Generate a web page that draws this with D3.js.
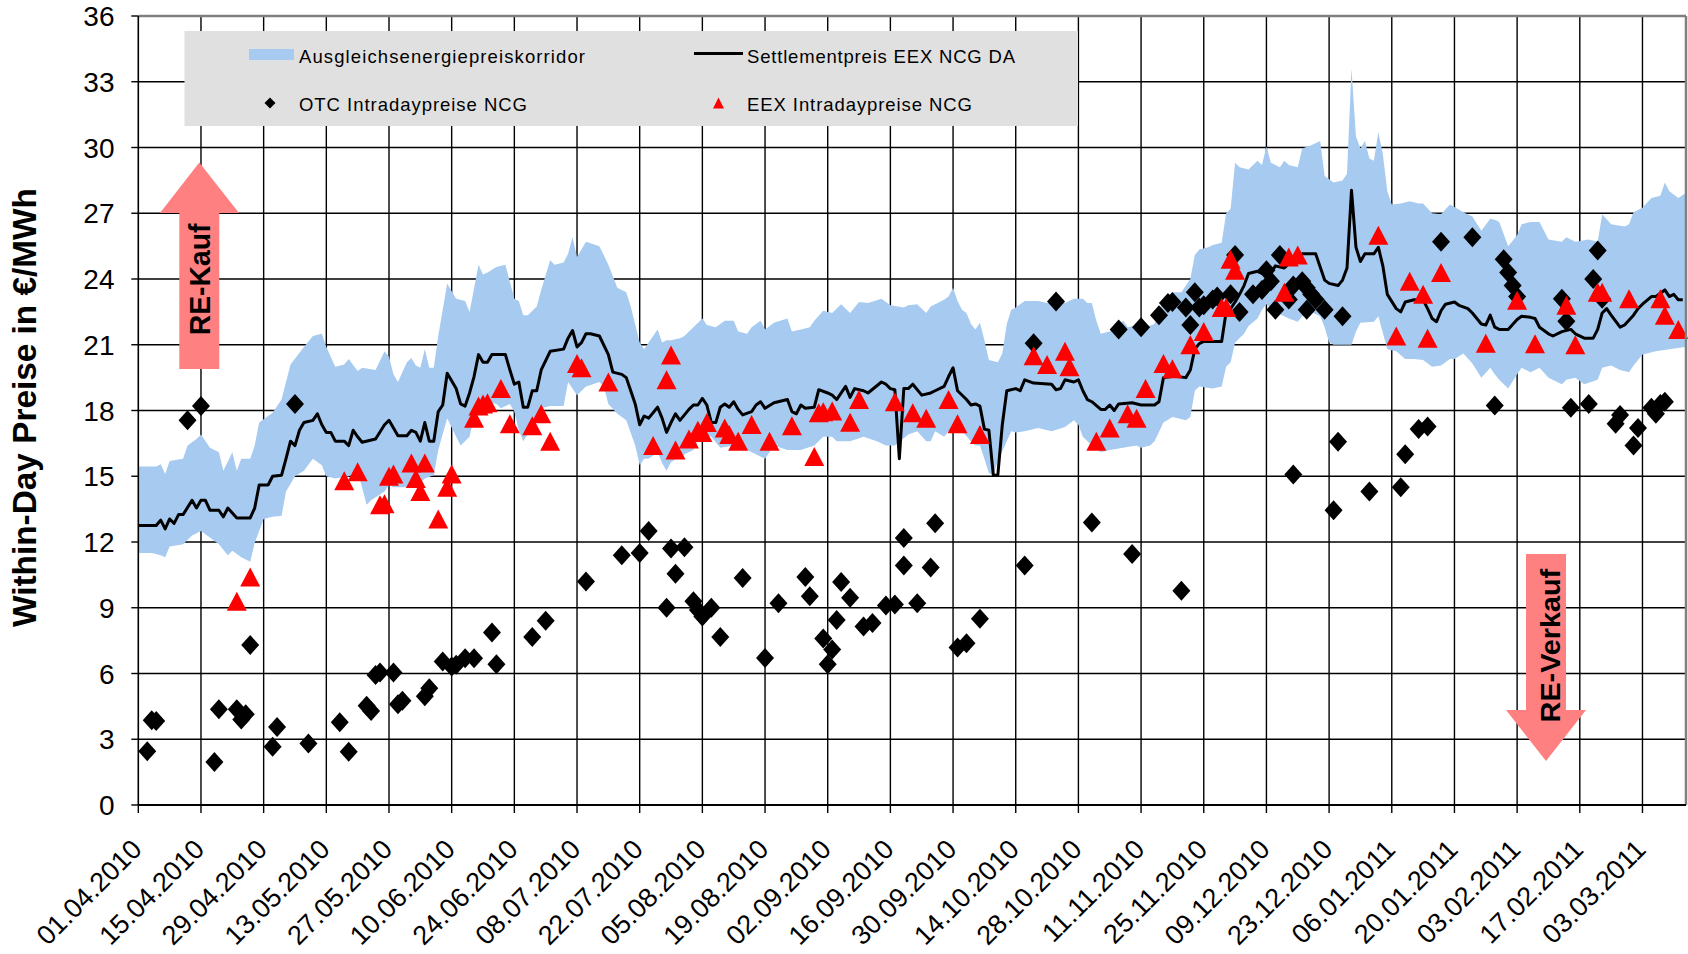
<!DOCTYPE html>
<html><head><meta charset="utf-8">
<script src="https://cdn.jsdelivr.net/npm/d3@7"></script>
<style>html,body{margin:0;padding:0;background:#fff}svg{display:block}text{font-family:"Liberation Sans",Arial,sans-serif}</style>
</head><body><svg id="chart" width="1688" height="954"></svg>
<script>
// ---------------- DATA (day = days after 01.04.2010) ----------------
const startLabel = "01.04.2010";
const xEndDay = 345.5;
const xTickLabels = ["01.04.2010","15.04.2010","29.04.2010","13.05.2010","27.05.2010","10.06.2010","24.06.2010","08.07.2010","22.07.2010","05.08.2010","19.08.2010","02.09.2010","16.09.2010","30.09.2010","14.10.2010","28.10.2010","11.11.2010","25.11.2010","09.12.2010","23.12.2010","06.01.2011","20.01.2011","03.02.2011","17.02.2011","03.03.2011"];
const yTicks = [0,3,6,9,12,15,18,21,24,27,30,33,36];

const seriesNames = ["Ausgleichsenergiepreiskorridor","Settlementpreis EEX NCG DA","OTC Intradaypreise NCG","EEX Intradaypreise NCG"];

// Ausgleichsenergiepreiskorridor, upper edge [day, €/MWh]
const corridorUpper = [[0,15.45],[4,15.45],[5,15.55],[6,15.1],[7,15.7],[10,15.8],[11,16.4],[13,16.7],[14,16.9],[16,16.3],[18,16.1],[19,15.25],[21,16.1],[22,15.25],[23,15.8],[25,15.8],[26,16.4],[27,17.45],[30,17.9],[32,18.5],[34,20.1],[37,20.9],[39,21.4],[41,21.5],[42,20.9],[44,20.0],[46,20.1],[47,20.35],[49,19.8],[50,19.95],[53,19.85],[55,20.7],[56,20.45],[57,19.65],[58,19.3],[60,20.2],[61,20.4],[62,20.05],[63,19.95],[64,20.8],[65,19.95],[66,19.95],[67,21.4],[69,23.8],[71,23.1],[73,23.0],[74,22.5],[76,24.65],[77,24.2],[78,24.3],[80,24.55],[82,24.65],[84,23.1],[85,23.0],[86,22.35],[87,22.35],[89,22.75],[90,23.5],[92,24.85],[93,24.65],[95,24.75],[96,25.15],[97,25.9],[98,25.0],[100,25.7],[103,25.5],[105,24.65],[107,23.6],[109,23.4],[110,22.75],[112,21.1],[113,20.8],[114,21.1],[116,21.7],[117,21.1],[118,21.2],[119,21.2],[121,21.3],[122,21.4],[124,21.8],[126,22.2],[127,21.9],[129,21.8],[131,22.1],[133,22.1],[134,21.6],[136,21.5],[137,21.8],[139,22.1],[140,21.7],[142,22.0],[145,22.2],[146,21.6],[148,21.7],[150,21.8],[151,22.1],[153,22.55],[155,22.45],[157,22.85],[159,22.45],[161,22.95],[163,22.9],[166,23.1],[168,22.8],[171,22.7],[172,22.8],[174,22.85],[176,22.45],[177,22.75],[178,22.85],[180,23.05],[181,23.2],[182,23.6],[183,23.0],[184,22.6],[185,22.45],[186,21.95],[187,21.7],[188,22.0],[189,21.2],[190,20.3],[192,20.2],[193,20.6],[194,21.95],[195,22.6],[196,22.7],[198,23.0],[201,23.0],[203,22.9],[205,23.0],[207,22.9],[209,23.1],[211,23.1],[212,22.9],[213,22.9],[214,22.1],[215,21.5],[217,21.6],[220,22.1],[221,21.8],[223,21.9],[225,21.8],[227,21.95],[229,23.1],[231,23.4],[233,23.4],[235,24.0],[236,25.1],[237,25.35],[239,25.45],[240,25.55],[242,25.65],[243,27.0],[244,27.2],[245,29.3],[246,29.1],[248,29.0],[250,29.4],[251,29.2],[252,30.05],[253,29.3],[255,29.1],[256,29.4],[257,29.2],[259,29.1],[260,29.95],[262,30.1],[264,30.3],[265,28.7],[267,28.4],[269,28.5],[270,28.8],[271,33.6],[272,30.5],[273,29.95],[274,30.3],[275,29.5],[276,29.4],[277,30.7],[278,29.7],[279,28.0],[280,27.4],[282,27.45],[284,27.55],[286,27.45],[287,27.45],[289,27.0],[291,26.95],[293,27.4],[296,27.05],[298,26.85],[300,26.2],[302,26.75],[303,26.7],[304,26.6],[306,25.5],[308,26.0],[309,26.5],[311,26.6],[313,26.6],[315,25.8],[318,25.7],[319,25.9],[321,25.7],[324,25.8],[326,25.7],[327,26.95],[329,26.5],[332,26.4],[333,26.5],[334,27.05],[336,27.25],[338,27.7],[340,27.8],[341,28.4],[342,28.0],[344,27.7],[345.5,27.9]];

// Ausgleichsenergiepreiskorridor, lower edge [day, €/MWh]
const corridorLower = [[0,11.5],[3,11.5],[5,11.4],[6,11.3],[7,11.8],[10,11.9],[12,12.3],[14,12.5],[16,12.2],[18,11.9],[20,11.4],[21,11.6],[23,11.3],[25,11.1],[26,11.95],[28,13.05],[30,13.15],[32,13.2],[33,14.3],[35,15.0],[37,15.25],[39,15.8],[41,15.5],[42,15.0],[44,14.9],[47,15.0],[49,15.25],[51,13.7],[52,13.9],[55,14.3],[56,14.6],[57,14.5],[60,14.5],[63,14.7],[64,14.9],[66,15.05],[67,16.2],[69,17.65],[71,16.8],[72,16.4],[74,16.8],[75,17.75],[77,18.3],[78,18.4],[80,18.3],[81,18.1],[83,18.3],[84,17.95],[85,17.1],[86,16.6],[88,17.25],[89,17.55],[90,18.1],[92,18.2],[93,18.2],[95,18.2],[96,19.3],[98,18.7],[100,19.1],[103,19.3],[104,19.1],[105,18.3],[107,17.85],[109,17.55],[111,16.4],[112,15.5],[113,15.8],[114,15.8],[116,16.1],[117,15.6],[118,15.25],[119,15.65],[122,16.0],[124,16.2],[126,17.0],[128,16.8],[130,16.3],[133,16.4],[136,16.2],[140,15.8],[142,16.4],[145,16.2],[148,16.2],[151,16.4],[153,16.8],[155,16.8],[156,16.6],[159,16.6],[162,16.8],[165,16.6],[167,16.4],[169,16.4],[172,16.9],[174,17.05],[176,16.6],[177,16.6],[178,17.05],[180,16.8],[181,17.05],[183,17.0],[184,17.05],[186,16.6],[187,16.4],[188,16.4],[189,15.8],[190,15.15],[191,15.05],[192,15.7],[194,16.6],[195,17.05],[196,17.0],[198,17.05],[201,17.2],[204,17.05],[207,17.25],[209,17.55],[210,17.35],[211,16.8],[213,16.4],[215,16.1],[217,16.2],[220,16.3],[223,16.4],[224,16.3],[226,16.4],[227,16.6],[229,17.45],[231,17.7],[234,17.55],[235,17.7],[236,18.9],[237,19.1],[240,19.0],[242,19.1],[243,20.0],[244,20.2],[245,21.1],[247,21.5],[248,21.85],[250,22.2],[251,22.6],[252,22.85],[254,22.5],[257,22.2],[259,22.05],[260,22.3],[262,22.5],[264,22.3],[265,21.8],[266,21.1],[267,21.0],[269,21.0],[271,21.0],[272,21.6],[273,22.0],[276,22.05],[277,22.3],[279,20.8],[281,20.7],[283,20.35],[285,20.35],[287,20.3],[289,20.0],[291,20.05],[293,20.35],[294,20.35],[296,20.6],[298,20.15],[300,19.5],[302,19.95],[303,19.65],[304,19.4],[306,19.0],[308,19.65],[309,19.95],[311,19.75],[313,19.95],[315,19.5],[318,19.2],[319,19.4],[321,19.5],[323,19.2],[326,19.4],[327,19.95],[329,20.05],[331,19.85],[333,19.75],[334,20.05],[336,20.55],[339,20.7],[342,20.8],[345.5,20.9]];

// Settlementpreis EEX NCG DA [day, €/MWh]
const settlement = [[0,12.75],[4,12.75],[5,13.0],[6,12.6],[7,13.05],[8,12.85],[9,13.25],[10,13.25],[12,13.9],[13,13.55],[14,13.9],[15,13.9],[16,13.45],[18,13.45],[19,13.15],[20,13.55],[22,13.1],[25,13.1],[26,13.55],[27,14.6],[29,14.6],[30,15.0],[32,15.05],[33,15.8],[34,16.6],[35,16.4],[36,17.1],[37,17.45],[39,17.55],[40,17.85],[41,17.35],[42,17.0],[43,17.0],[44,16.6],[46,16.6],[47,16.4],[48,17.1],[49,16.8],[50,16.55],[53,16.7],[55,17.35],[56,17.55],[58,16.85],[60,16.85],[61,17.1],[62,17.0],[63,16.6],[64,17.45],[65,16.6],[66,16.6],[67,17.95],[68,18.25],[69,19.7],[71,19.0],[72,18.3],[73,18.2],[74,18.8],[75,19.55],[76,20.55],[77,20.2],[78,20.2],[79,20.55],[82,20.55],[83,19.85],[84,19.2],[85,19.3],[86,18.15],[87,18.15],[88,18.9],[89,18.9],[90,19.85],[92,20.7],[95,20.8],[96,21.3],[97,21.65],[98,20.9],[99,21.1],[100,21.5],[101,21.5],[103,21.4],[105,20.55],[106,19.75],[108,19.65],[109,19.5],[110,18.9],[111,18.3],[112,17.35],[113,17.75],[114,17.65],[116,18.15],[117,17.65],[118,17.0],[119,17.45],[120,17.85],[121,17.55],[123,18.05],[124,18.25],[125,18.25],[126,18.55],[127,18.25],[128,17.45],[129,17.45],[130,18.15],[131,18.3],[132,18.15],[133,18.4],[134,18.05],[135,17.8],[137,17.95],[138,18.25],[139,18.4],[140,18.1],[142,18.35],[145,18.5],[146,17.95],[147,17.85],[148,18.25],[149,18.1],[151,18.15],[152,18.95],[154,18.8],[155,18.7],[156,18.5],[158,19.1],[159,18.6],[160,19.0],[162,18.9],[163,18.8],[166,19.3],[167,19.2],[168,19.0],[169,18.95],[170,15.8],[171,19.0],[172,19.0],[173,19.2],[175,18.7],[177,18.8],[178,18.9],[180,19.1],[181,19.55],[182,19.95],[183,18.9],[185,18.5],[186,18.25],[187,18.3],[188,18.2],[189,17.15],[190,17.1],[191,15.05],[192,15.05],[193,17.35],[194,18.9],[196,19.0],[197,18.9],[198,19.4],[200,19.25],[204,19.2],[205,18.95],[206,19.0],[207,19.4],[209,19.3],[210,19.4],[211,18.9],[212,18.5],[213,18.4],[215,18.05],[216,18.05],[217,18.25],[218,18.0],[219,18.3],[222,18.35],[224,18.25],[227,18.25],[228,18.4],[229,19.5],[231,19.55],[232,19.55],[234,19.5],[235,19.85],[236,20.8],[237,21.05],[238,21.15],[242,21.15],[243,22.5],[244,22.65],[245,22.95],[246,23.3],[247,23.7],[248,24.25],[250,24.35],[251,24.25],[253,24.25],[254,24.6],[256,24.5],[257,24.7],[259,24.9],[260,25.15],[263,25.15],[265,23.95],[266,23.8],[268,23.7],[269,23.95],[270,24.5],[271,28.05],[272,25.45],[273,24.8],[274,25.15],[276,25.15],[277,25.45],[278,24.6],[279,23.3],[281,22.65],[282,22.5],[283,22.95],[285,23.05],[287,23.05],[288,22.65],[289,22.2],[290,22.05],[291,22.55],[292,22.85],[294,22.95],[295,22.8],[297,22.65],[298,22.45],[300,21.95],[301,21.9],[302,22.35],[303,21.8],[304,21.7],[306,21.7],[308,22.15],[309,22.3],[311,22.25],[312,22.2],[313,21.8],[315,21.5],[316,21.4],[318,21.6],[320,21.7],[321,21.5],[323,21.3],[325,21.3],[326,21.7],[327,22.45],[328,22.65],[329,22.35],[331,21.8],[332,21.9],[334,22.35],[335,22.65],[336,22.85],[338,23.2],[339,23.2],[341,23.5],[342,23.2],[343,23.3],[344,23.05],[345,23.05]];

// OTC Intradaypreise NCG [day, €/MWh]
const otcIntraday = [[2,2.45],[3,3.87],[4,3.83],[11,17.56],[14,18.2],[17,1.96],[18,4.37],[22,4.37],[23,3.9],[24,4.14],[25,7.3],[30,2.66],[31,3.56],[35,18.3],[38,2.81],[45,3.78],[47,2.43],[51,4.53],[52,4.29],[53,5.93],[54,6.05],[57,6.05],[58,4.6],[59,4.76],[64,4.96],[65,5.33],[68,6.55],[70,6.32],[71,6.4],[73,6.7],[75,6.7],[79,7.87],[80,6.42],[88,7.67],[91,8.41],[100,10.2],[108,11.4],[112,11.5],[114,12.5],[118,9.0],[119,11.7],[120,10.55],[122,11.76],[124,9.3],[125,8.9],[126,8.6],[128,9.0],[130,7.67],[135,10.36],[140,6.71],[143,9.2],[149,10.4],[150,9.53],[153,7.6],[154,6.42],[155,7.1],[156,8.44],[157,10.17],[159,9.46],[162,8.15],[164,8.3],[167,9.1],[169,9.15],[171,12.18],[171,10.93],[174,9.2],[177,10.84],[178,12.85],[183,7.19],[185,7.38],[188,8.5],[198,10.93],[200,21.07],[205,22.97],[213,12.89],[219,21.7],[222,11.45],[224,21.8],[228,22.35],[230,22.9],[231,22.95],[233,9.77],[234,22.7],[235,21.9],[236,23.4],[237,22.7],[238,22.8],[240,23.06],[241,23.2],[244,23.3],[245,25.1],[246,22.5],[249,23.3],[251,23.5],[252,24.4],[253,23.9],[254,22.6],[255,25.1],[257,23.06],[258,15.08],[258,23.7],[260,23.9],[261,23.6],[261,22.6],[262,23.3],[263,23.06],[265,22.6],[267,13.45],[268,16.57],[269,22.3],[275,14.3],[282,14.5],[283,16.0],[286,17.16],[288,17.27],[291,25.7],[298,25.9],[303,18.23],[305,24.9],[306,24.3],[307,23.7],[308,23.2],[318,23.1],[319,22.07],[320,18.13],[324,18.3],[325,24.0],[326,25.3],[327,23.1],[330,17.4],[331,17.8],[334,16.4],[335,17.2],[338,18.13],[339,17.85],[340,18.3],[341,18.4]];

// EEX Intradaypreise NCG [day, €/MWh]
const eexIntraday = [[22,9.3],[25,10.4],[46,14.8],[49,15.2],[54,13.7],[55,13.75],[56,15.0],[57,15.1],[61,15.6],[62,14.9],[63,14.3],[64,15.6],[67,13.05],[69,14.5],[70,15.1],[75,17.65],[76,18.2],[77,18.3],[78,18.35],[81,19.0],[83,17.4],[88,17.3],[90,17.85],[92,16.6],[98,20.15],[99,19.95],[105,19.3],[115,16.4],[118,19.4],[119,20.53],[120,16.2],[123,16.7],[125,17.1],[126,17.0],[127,17.45],[131,17.2],[132,16.9],[134,16.6],[137,17.36],[141,16.6],[146,17.3],[151,15.9],[152,17.9],[153,17.94],[155,17.98],[159,17.46],[161,18.5],[169,18.4],[173,17.9],[176,17.65],[181,18.5],[183,17.4],[188,16.9],[200,20.5],[203,20.1],[207,20.7],[208,20.0],[214,16.6],[217,17.2],[221,17.85],[223,17.65],[225,19.0],[229,20.15],[231,19.9],[235,21.0],[238,21.6],[242,22.7],[243,22.7],[244,24.9],[245,24.4],[256,23.4],[257,25.0],[259,25.1],[277,26.0],[281,21.4],[284,23.9],[287,23.3],[288,21.3],[291,24.3],[301,21.07],[308,23.03],[312,21.05],[319,22.8],[321,21.0],[326,23.4],[327,23.4],[333,23.1],[340,23.1],[341,22.35],[344,21.7]];

// ---------------- LAYOUT ----------------
const plot = {left:138.3, right:1685, top:16, bottom:805};
const svg = d3.select("#chart");
svg.append("rect").attr("width",1688).attr("height",954).attr("fill","#fff");

const parse = d3.utcParse("%d.%m.%Y");
const start = parse(startLabel);
const toDate = d => new Date(+start + d*864e5);
const x = d3.scaleUtc().domain([toDate(0), toDate(xEndDay)]).range([plot.left, plot.right]);
const y = d3.scaleLinear().domain([0,36]).range([plot.bottom, plot.top]);
const px = p => x(toDate(p[0]));
const py = p => y(p[1]);
const xTickDates = xTickLabels.map(parse);

// grid
const grid = svg.append("g");
grid.selectAll(".hg").data(yTicks.filter(v=>v>0 && v<36)).join("line")
  .attr("x1",plot.left).attr("x2",plot.right).attr("y1",d=>y(d)).attr("y2",d=>y(d))
  .attr("stroke","#000").attr("stroke-width",1.4);
grid.selectAll(".vg").data(xTickDates.slice(1)).join("line")
  .attr("x1",d=>x(d)).attr("x2",d=>x(d)).attr("y1",plot.top).attr("y2",plot.bottom)
  .attr("stroke","#000").attr("stroke-width",1.4);

// corridor band
const bandPts = corridorUpper.map(p=>[px(p),py(p)]).concat(corridorLower.slice().reverse().map(p=>[px(p),py(p)]));
svg.append("path").attr("d", d3.line()(bandPts)+"Z").attr("fill","#a6caf0").attr("stroke","none");

// settlement line
svg.append("path").datum(settlement)
  .attr("d", d3.line().x(px).y(py))
  .attr("fill","none").attr("stroke","#000").attr("stroke-width",3).attr("stroke-linejoin","round");

// OTC diamonds
const dHalfX = 9, dHalfY = 10;
svg.append("g").selectAll("path").data(otcIntraday).join("path")
  .attr("d", p => { const cx=px(p), cy=py(p); return `M${cx},${cy-dHalfY}L${cx+dHalfX},${cy}L${cx},${cy+dHalfY}L${cx-dHalfX},${cy}Z`; })
  .attr("fill","#000");

// EEX triangles
const tW = 10, tH = 9.5;
svg.append("g").selectAll("path").data(eexIntraday).join("path")
  .attr("d", p => { const cx=px(p), cy=py(p); return `M${cx},${cy-tH}L${cx+tW},${cy+tH}L${cx-tW},${cy+tH}Z`; })
  .attr("fill","#ff0000");

// frame
svg.append("line").attr("x1",plot.left).attr("x2",plot.right+1).attr("y1",plot.top).attr("y2",plot.top).attr("stroke","#808080").attr("stroke-width",2.5);
svg.append("line").attr("x1",plot.right+1).attr("x2",plot.right+1).attr("y1",plot.top).attr("y2",plot.bottom).attr("stroke","#808080").attr("stroke-width",2.5);
svg.append("line").attr("x1",plot.left).attr("x2",plot.left).attr("y1",plot.top).attr("y2",plot.bottom).attr("stroke","#000").attr("stroke-width",1.6);
svg.append("line").attr("x1",plot.left).attr("x2",plot.right+1).attr("y1",plot.bottom).attr("y2",plot.bottom).attr("stroke","#000").attr("stroke-width",2);

// y axis ticks + labels
const yAx = svg.append("g");
yAx.selectAll("line").data(yTicks).join("line")
  .attr("x1",plot.left-7).attr("x2",plot.left).attr("y1",d=>y(d)).attr("y2",d=>y(d))
  .attr("stroke","#000").attr("stroke-width",1.4);
yAx.selectAll("text").data(yTicks).join("text")
  .attr("x",114.5).attr("y",d=>y(d)).attr("dy","0.36em")
  .attr("text-anchor","end").attr("font-size",28).attr("fill","#000").text(d=>d);

// x axis ticks + labels
const xAx = svg.append("g");
xAx.selectAll("line").data(xTickDates).join("line")
  .attr("x1",d=>x(d)).attr("x2",d=>x(d)).attr("y1",plot.bottom).attr("y2",plot.bottom+8)
  .attr("stroke","#000").attr("stroke-width",1.4);
xAx.selectAll("text").data(xTickLabels).join("text")
  .attr("transform",d=>`translate(${x(parse(d))+5},851) rotate(-45)`)
  .attr("text-anchor","end").attr("font-size",27).attr("fill","#000").text(d=>d);

// y title
svg.append("text").attr("transform","translate(36,407.5) rotate(-90)")
  .attr("text-anchor","middle").attr("font-size",33).attr("font-weight","bold")
  .attr("textLength",439).attr("lengthAdjust","spacingAndGlyphs")
  .text("Within-Day Preise in €/MWh");

// legend
const lg = svg.append("g");
lg.append("rect").attr("x",184.5).attr("y",31).attr("width",893.5).attr("height",95).attr("fill","#e0e0e0");
lg.append("rect").attr("x",249).attr("y",49).attr("width",45).attr("height",11).attr("fill","#a6caf0");
lg.append("line").attr("x1",694).attr("x2",743).attr("y1",53.5).attr("y2",53.5).attr("stroke","#000").attr("stroke-width",3);
lg.append("path").attr("d","M270,97.5L275.5,103L270,108.5L264.5,103Z").attr("fill","#000");
lg.append("path").attr("d","M718.5,97.5L724,108.5L713,108.5Z").attr("fill","#ff0000");
const legTexts = [
  {t:seriesNames[0], x:299, y:62.5, len:286},
  {t:seriesNames[1], x:747, y:62.5, len:268},
  {t:seriesNames[2], x:299, y:110.5, len:228},
  {t:seriesNames[3], x:747, y:110.5, len:225}
];
lg.selectAll("text").data(legTexts).join("text")
  .attr("x",d=>d.x).attr("y",d=>d.y).attr("font-size",18.5).attr("fill","#000")
  .attr("textLength",d=>d.len).attr("lengthAdjust","spacing").text(d=>d.t);

// arrows
const arrowColor = "#ff8080";
svg.append("path").attr("d","M199.3,162.6L239,213L219.3,213L219.3,369L179.3,369L179.3,213L160,213Z").attr("fill",arrowColor);
svg.append("text").attr("transform","translate(210,279.4) rotate(-90)")
  .attr("text-anchor","middle").attr("font-size",29).attr("font-weight","bold")
  .attr("textLength",111.6).attr("lengthAdjust","spacingAndGlyphs").text("RE-Kauf");
svg.append("path").attr("d","M1526,554L1566,554L1566,710L1586,710L1546,761L1506,710L1526,710Z").attr("fill",arrowColor);
svg.append("text").attr("transform","translate(1560,645.6) rotate(-90)")
  .attr("text-anchor","middle").attr("font-size",28.5).attr("font-weight","bold")
  .attr("textLength",153.6).attr("lengthAdjust","spacingAndGlyphs").text("RE-Verkauf");
</script>
</body></html>
